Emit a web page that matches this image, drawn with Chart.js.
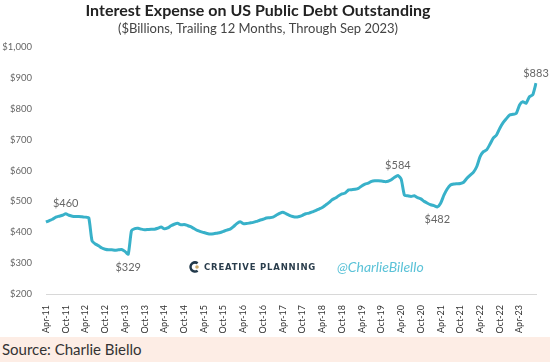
<!DOCTYPE html>
<html>
<head>
<meta charset="utf-8">
<script src="https://cdn.jsdelivr.net/npm/chart.js@4.4.0/dist/chart.umd.min.js"></script>
<style>
    html, body { margin: 0; padding: 0; background: #fff; }
    #wrap { position: relative; width: 550px; height: 337px; }
    #footer {
        width: 550px; height: 25px; background: #fdede5;
        font-family: Lato, "Open Sans", sans-serif; font-size: 15px; color: #333;
        line-height: 25px; padding-left: 2px; box-sizing: border-box;
    }
</style>
</head>
<body>
<div id="wrap"><canvas id="debtChart" width="550" height="337"></canvas></div>
<div id="footer">Source: Charlie Biello</div>
<script>
// Monthly, Apr 2011 through Sep 2023 ($ billions, trailing 12 months)
const startYear = 2011;
const startMonth = 3; // April (0-based)
const monthNames = ['Jan', 'Feb', 'Mar', 'Apr', 'May', 'Jun', 'Jul', 'Aug', 'Sep', 'Oct', 'Nov', 'Dec'];

const values2011 = [433, 438, 442, 449, 452, 455, 460, 455, 452];            // Apr-Dec
const values2012 = [451, 451, 450, 449, 447, 372, 362, 356, 349, 345, 343, 343];
const values2013 = [342, 343, 344, 338, 329, 405, 412, 413, 410, 408, 409, 410];
const values2014 = [410, 413, 417, 411, 414, 421, 426, 429, 424, 425, 422, 418];
const values2015 = [412, 406, 402, 399, 396, 394, 395, 397, 399, 403, 407, 410];
const values2016 = [418, 428, 434, 428, 428, 430, 432, 435, 439, 442, 446, 447];
const values2017 = [449, 455, 461, 465, 460, 455, 451, 449, 451, 455, 460, 462];
const values2018 = [466, 470, 475, 480, 488, 496, 505, 511, 518, 524, 527, 537];
const values2019 = [538, 539, 542, 550, 556, 559, 565, 567, 567, 566, 564, 565];
const values2020 = [570, 578, 584, 572, 520, 518, 516, 518, 512, 508, 500, 494];
const values2021 = [489, 486, 482, 494, 520, 540, 553, 556, 557, 558, 562, 575];
const values2022 = [585, 595, 613, 645, 661, 667, 685, 705, 715, 737, 755, 768];
const values2023 = [780, 782, 785, 812, 823, 818, 839, 845, 883];             // Jan-Sep

const interestValues = [].concat(values2011, values2012, values2013, values2014, values2015,
    values2016, values2017, values2018, values2019, values2020, values2021, values2022, values2023);

const monthLabels = interestValues.map((v, i) => {
    const m = (startMonth + i) % 12;
    const y = startYear + Math.floor((startMonth + i) / 12);
    return monthNames[m] + '-' + String(y).slice(2);
});

// Callout labels: [month label, text, above/below]
const callouts = [
    ['Oct-11', '$460', 'above'],
    ['May-13', '$329', 'below'],
    ['Mar-20', '$584', 'above'],
    ['Mar-21', '$482', 'below'],
    ['Sep-23', '$883', 'above']
];

const yTicks = [200, 300, 400, 500, 600, 700, 800, 900, 1000];

const lineColor = '#38b1c9';

const overlayPlugin = {
    id: 'overlay',
    afterDraw(chart) {
        const ctx = chart.ctx;
        const xs = chart.scales.x;
        const ys = chart.scales.y;
        ctx.save();

        // title + subtitle
        ctx.textAlign = 'center';
        ctx.textBaseline = 'middle';
        ctx.fillStyle = '#222';
        ctx.font = 'bold 16px Lato, sans-serif';
        ctx.fillText('Interest Expense on US Public Debt Outstanding', 258, 11);
        ctx.fillStyle = '#444';
        ctx.font = '13px Lato, sans-serif';
        ctx.fillText('($Billions, Trailing 12 Months, Through Sep 2023)', 258, 29);

        // value callouts
        ctx.font = '11px Lato, sans-serif';
        ctx.fillStyle = '#666';
        callouts.forEach(([lbl, text, pos]) => {
            const i = monthLabels.indexOf(lbl);
            const px = xs.getPixelForValue(i);
            const py = ys.getPixelForValue(interestValues[i]);
            ctx.fillText(text, px, pos === 'above' ? py - 10 : py + 13);
        });

        // watermark
        const wy = 267;
        ctx.lineWidth = 2.5;
        ctx.strokeStyle = '#22394a';
        ctx.beginPath();
        ctx.arc(195, wy, 4.5, Math.PI * 0.3, Math.PI * 1.7);
        ctx.stroke();
        ctx.fillStyle = '#c9a86a';
        ctx.beginPath();
        ctx.arc(197, wy, 1.8, 0, Math.PI * 2);
        ctx.fill();

        ctx.textAlign = 'left';
        ctx.fillStyle = '#2a3d4c';
        ctx.font = 'bold 8.5px "DejaVu Sans", sans-serif';
        if ('letterSpacing' in ctx) ctx.letterSpacing = '0.8px';
        ctx.fillText('CREATIVE PLANNING', 204, wy + 1);
        if ('letterSpacing' in ctx) ctx.letterSpacing = '0px';
        ctx.fillStyle = '#5cc3d8';
        ctx.font = 'italic 14px Lato, sans-serif';
        ctx.fillText('@CharlieBilello', 337, wy);

        ctx.restore();
    }
};

new Chart(document.getElementById('debtChart'), {
    type: 'line',
    data: {
        labels: monthLabels,
        datasets: [{
            data: interestValues,
            borderColor: lineColor,
            borderWidth: 3,
            pointRadius: 0,
            tension: 0.2,
            fill: false
        }]
    },
    options: {
        responsive: false,
        animation: false,
        layout: { padding: { top: 47, right: 14, left: 0, bottom: 0 } },
        plugins: {
            legend: { display: false },
            tooltip: { enabled: false }
        },
        scales: {
            y: {
                min: 200,
                max: 1000,
                afterFit(scale) { scale.width = 46; },
                afterBuildTicks(scale) { scale.ticks = yTicks.map(v => ({ value: v })); },
                grid: { display: false },
                border: { display: false },
                ticks: {
                    padding: 6,
                    color: '#666',
                    font: { family: 'Lato, sans-serif', size: 9.5 },
                    callback: v => '$' + v.toLocaleString('en-US')
                }
            },
            x: {
                afterFit(scale) { scale.height = 43; },
                grid: { display: false },
                border: { display: true, color: '#d8d8d8', width: 1 },
                ticks: {
                    autoSkip: false,
                    maxRotation: 90,
                    minRotation: 90,
                    padding: 3,
                    color: '#333',
                    font: { family: 'Lato, sans-serif', size: 9 },
                    callback: function(value) {
                        const l = monthLabels[value];
                        return (l.startsWith('Apr') || l.startsWith('Oct')) ? l : '';
                    }
                }
            }
        }
    },
    plugins: [overlayPlugin]
});
</script>
</body>
</html>
